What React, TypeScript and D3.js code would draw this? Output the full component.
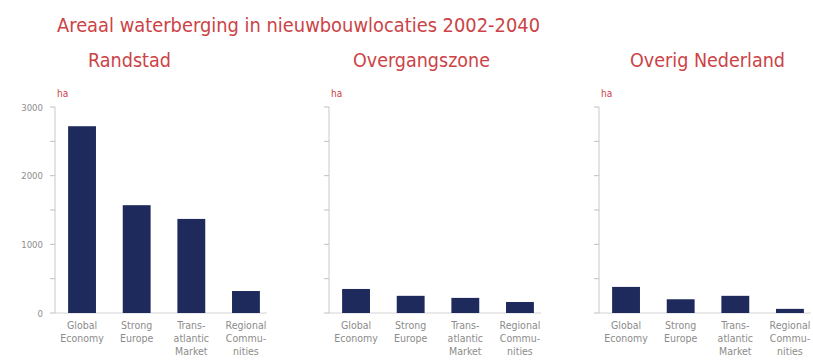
import React from "react";
import * as d3 from "d3";

const title = "Areaal waterberging in nieuwbouwlocaties 2002-2040";
const regions = ["Randstad", "Overgangszone", "Overig Nederland"];
const scenarios = ["Global Economy", "Strong Europe", "Trans-atlantic Market", "Regional Communities"];
const scenarioLines = [
  ["Global", "Economy"],
  ["Strong", "Europe"],
  ["Trans-", "atlantic", "Market"],
  ["Regional", "Commu-", "nities"],
];
const randstadValues = [2720, 1570, 1370, 320];
const overgangszoneValues = [350, 250, 220, 160];
const overigValues = [380, 200, 250, 60];
const seriesValues = [randstadValues, overgangszoneValues, overigValues];
const yTicks = [0, 500, 1000, 1500, 2000, 2500, 3000];
const yLabelTicks = [0, 1000, 2000, 3000];
const unitLabel = "ha";

const W = 813;
const H = 363;
const axisXs = [55, 329, 599];
const subtitleX = [88, 353, 630];
const subtitleW = [83, 137, 155];
const RED = "#cc4346";
const BAR = "#1d2a5b";
const GREY = "#8c8c8c";
const FONT = "'Liberation Sans Narrow', 'DejaVu Sans Condensed', 'Open Sans', sans-serif";

export default function App() {
  const y = d3.scaleLinear().domain([0, 3000]).range([313, 107]);
  return (
    <svg
      width={W}
      height={H}
      viewBox={`0 0 ${W} ${H}`}
      style={{ position: "absolute", left: 0, top: 0, background: "#fff" }}
      fontFamily={FONT}
    >
      <rect x={0} y={0} width={W} height={H} fill="#fff" />
      <text x={57} y={32} fontSize={20} fill={RED} textLength={483} lengthAdjust="spacingAndGlyphs">
        {title}
      </text>
      {regions.map((r, i) => (
        <text key={r} x={subtitleX[i]} y={67} fontSize={19} fill={RED} textLength={subtitleW[i]} lengthAdjust="spacingAndGlyphs">
          {r}
        </text>
      ))}
      {regions.map((r, pi) => {
        const ax = axisXs[pi];
        const x = d3
          .scaleBand<string>()
          .domain(scenarios)
          .range([ax, ax + 218])
          .paddingInner(0.49)
          .paddingOuter(0.24);
        const vals = seriesValues[pi];
        return (
          <g key={r}>
            <text x={ax + 2} y={97} fontSize={10} fill={RED}>
              {unitLabel}
            </text>
            <line x1={ax} x2={ax} y1={y(3000)} y2={y(0)} stroke="#c8c8c8" strokeWidth={1} />
            <line x1={ax} x2={ax + 212} y1={y(0)} y2={y(0)} stroke="#d4d4d4" strokeWidth={1} />
            {yTicks.map((t) => (
              <line key={t} x1={ax - 5} x2={ax} y1={y(t)} y2={y(t)} stroke="#c0c0c0" strokeWidth={1} />
            ))}
            {pi === 0 &&
              yLabelTicks.map((t) => (
                <text key={t} x={43} y={y(t) + 3.5} fontSize={9.5} fill={GREY} textAnchor="end">
                  {t}
                </text>
              ))}
            {scenarios.map((s, i) => (
              <rect
                key={s}
                x={x(s)}
                y={y(vals[i])}
                width={x.bandwidth()}
                height={y(0) - y(vals[i])}
                fill={BAR}
              />
            ))}
            {scenarios.map((s, i) => (
              <text key={s} x={(x(s) as number) + x.bandwidth() / 2} y={329} fontSize={10.5} fill={GREY} textAnchor="middle">
                {scenarioLines[i].map((ln, k) => (
                  <tspan key={k} x={(x(s) as number) + x.bandwidth() / 2} dy={k === 0 ? 0 : 13}>
                    {ln}
                  </tspan>
                ))}
              </text>
            ))}
          </g>
        );
      })}
    </svg>
  );
}
